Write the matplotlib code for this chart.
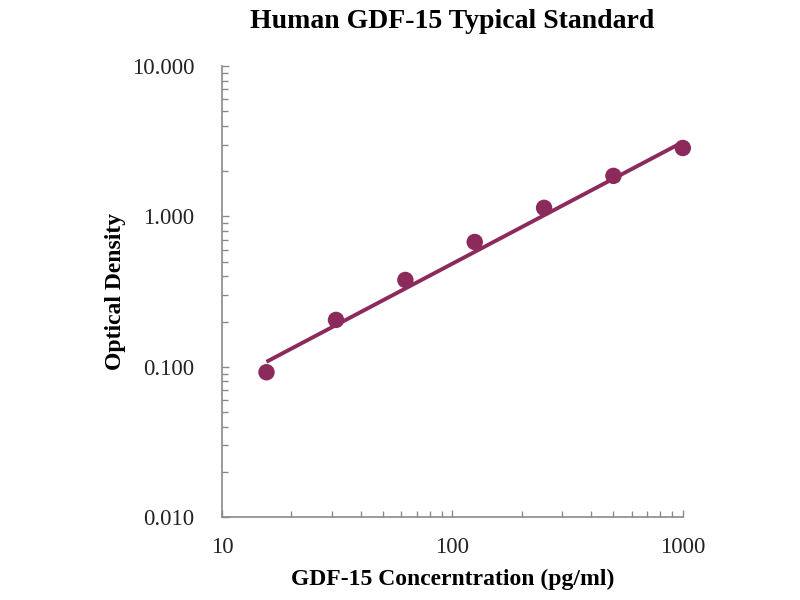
import matplotlib
matplotlib.use('Agg')
import matplotlib.pyplot as plt
from matplotlib.ticker import FixedLocator, FixedFormatter, LogLocator, NullFormatter

# standard curve data
conc = [15.6, 31.25, 62.5, 125, 250, 500, 1000]
od = [0.092, 0.205, 0.378, 0.676, 1.14, 1.86, 2.85]

# fitted line end points
fit_x = [15.6, 1000]
fit_y = [0.108, 3.12]

x_ticks = [10, 100, 1000]
x_tick_labels = ['10', '100', '1000']
y_ticks = [0.01, 0.1, 1, 10]
y_tick_labels = ['0.010', '0.100', '1.000', '10.000']

color = '#8c2a5c'
spine_color = '#8a8a8a'
serif = ['Liberation Serif', 'DejaVu Serif']

fig = plt.figure(figsize=(8, 6), dpi=100)
ax = fig.add_axes([0.2775, 0.138, 0.576, 0.752])

ax.plot(fit_x, fit_y, color=color, linewidth=2.8, solid_capstyle='butt')
ax.scatter(conc, od, s=140, color=color, edgecolors='none', zorder=3, clip_on=False)

ax.set_xscale('log')
ax.set_yscale('log')
ax.set_xlim(10, 1000)
ax.set_ylim(0.01, 10)

ax.xaxis.set_major_locator(FixedLocator(x_ticks))
ax.xaxis.set_major_formatter(FixedFormatter(x_tick_labels))
ax.yaxis.set_major_locator(FixedLocator(y_ticks))
ax.yaxis.set_major_formatter(FixedFormatter(y_tick_labels))
ax.xaxis.set_minor_locator(LogLocator(base=10, subs=range(2, 10)))
ax.yaxis.set_minor_locator(LogLocator(base=10, subs=range(2, 10)))
ax.xaxis.set_minor_formatter(NullFormatter())
ax.yaxis.set_minor_formatter(NullFormatter())

for side in ['top', 'right']:
    ax.spines[side].set_visible(False)
for side in ['left', 'bottom']:
    ax.spines[side].set_color(spine_color)
    ax.spines[side].set_linewidth(1.2)

ax.tick_params(which='both', direction='in', color=spine_color, width=1)
ax.tick_params(which='major', length=5)
ax.tick_params(which='minor', length=4)
ax.tick_params(axis='y', which='major', pad=20)
ax.tick_params(axis='x', which='major', pad=14)

for lab in ax.get_xticklabels() + ax.get_yticklabels():
    lab.set_fontfamily(serif)
    lab.set_fontsize(16.5)
    lab.set_color('#222222')

ax.set_title('Human GDF-15 Typical Standard', fontsize=20, fontweight='bold',
             family=serif, pad=27)
ax.set_xlabel('GDF-15 Concerntration (pg/ml)', fontsize=17, fontweight='bold',
              family=serif, labelpad=8)
ax.set_ylabel('Optical Density', fontsize=17, fontweight='bold',
              family=serif, labelpad=4)

plt.savefig('out.png', dpi=100)
